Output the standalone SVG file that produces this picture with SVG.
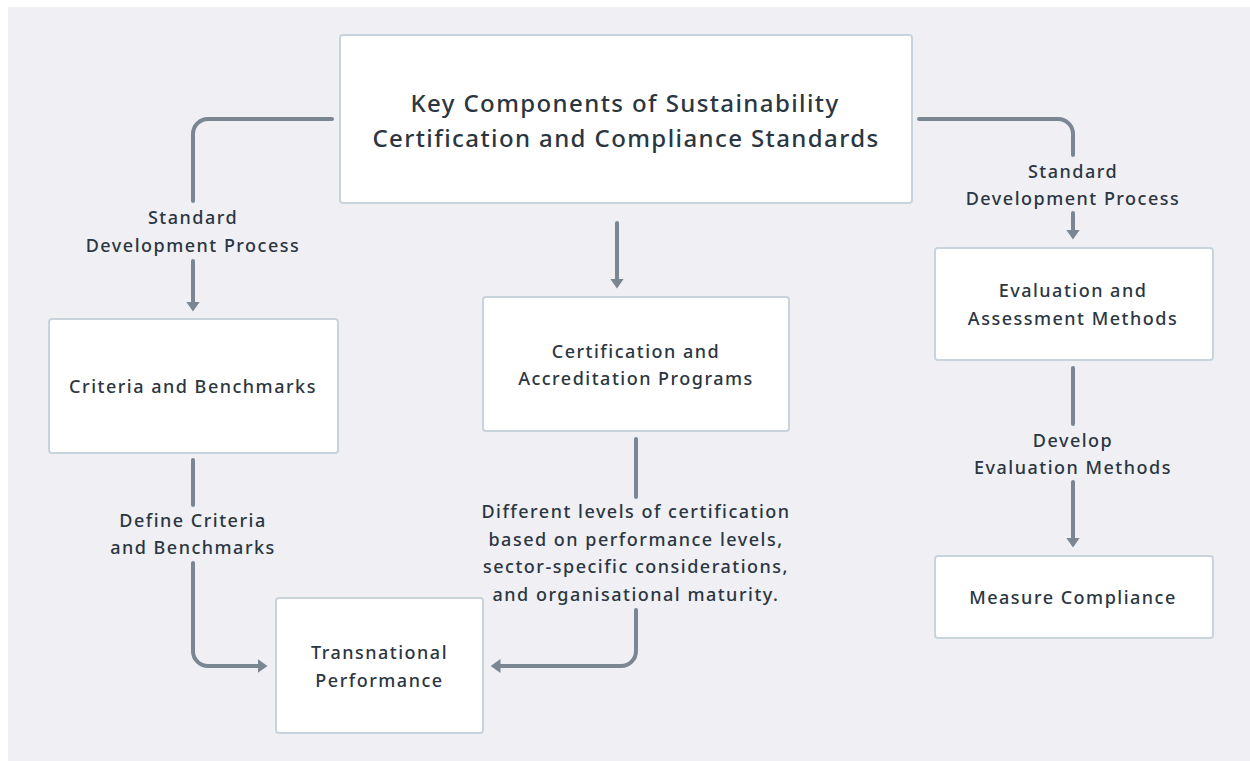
<svg xmlns="http://www.w3.org/2000/svg" width="1250" height="761" viewBox="0 0 1250 761">
<style>
.bg{fill:#efeff4}
.box{fill:#ffffff;stroke:#c9d3dc;stroke-width:2}
.t{font-family:"Noto Sans","DejaVu Sans",sans-serif;font-size:18px;font-weight:500;fill:#2b3641;text-anchor:middle;letter-spacing:1.5px}
.title{font-size:24px;letter-spacing:1.4px}
.c{fill:none;stroke:#7a8792;stroke-width:4;stroke-linecap:round}
</style>
<defs>
<marker id="ah" viewBox="0 0 10 14" markerUnits="userSpaceOnUse" markerWidth="10" markerHeight="14" refX="0.5" refY="7" orient="auto">
<path d="M0,0 L10,7 L0,14 z" fill="#7a8792"/>
</marker>
</defs>
<rect class="bg" x="8" y="7" width="1242" height="754"/>
<g id="connectors">
<path class="c" d="M332,119 H208 A15,15 0 0 0 193,134 V201"/>
<path class="c" d="M193,261 V302" marker-end="url(#ah)"/>
<path class="c" d="M617,223 V279" marker-end="url(#ah)"/>
<path class="c" d="M919,119 H1058 A15,15 0 0 1 1073,134 V155"/>
<path class="c" d="M1073,213 V230" marker-end="url(#ah)"/>
<path class="c" d="M193,460 V505"/>
<path class="c" d="M193,563 V651 A15,15 0 0 0 208,666 H258" marker-end="url(#ah)"/>
<path class="c" d="M636,439 V497"/>
<path class="c" d="M636,610 V651 A15,15 0 0 1 621,666 H500" marker-end="url(#ah)"/>
<path class="c" d="M1073,368 V424"/>
<path class="c" d="M1073,482 V538" marker-end="url(#ah)"/>
<text class="t" x="193" y="224">Standard</text>
<text class="t" x="193" y="252">Development Process</text>
<text class="t" x="1073" y="178">Standard</text>
<text class="t" x="1073" y="205">Development Process</text>
<text class="t" x="193" y="527">Define Criteria</text>
<text class="t" x="193" y="554">and Benchmarks</text>
<text class="t" x="636" y="518">Different levels of certification</text>
<text class="t" x="636" y="546">based on performance levels,</text>
<text class="t" x="636" y="573">sector-specific considerations,</text>
<text class="t" x="636" y="601">and organisational maturity.</text>
<text class="t" x="1073" y="447">Develop</text>
<text class="t" x="1073" y="474">Evaluation Methods</text>
</g>
<g id="main">
<rect class="box" x="340" y="35" width="572" height="168" rx="3"/>
<text class="t title" x="625" y="111.5">Key Components of Sustainability</text>
<text class="t title" x="626" y="147">Certification and Compliance Standards</text>
</g>
<g id="criteria">
<rect class="box" x="49" y="319" width="289" height="134" rx="3"/>
<text class="t" x="193" y="392.5">Criteria and Benchmarks</text>
</g>
<g id="certification">
<rect class="box" x="483" y="297" width="306" height="134" rx="3"/>
<text class="t" x="636" y="358">Certification and</text>
<text class="t" x="636" y="385">Accreditation Programs</text>
</g>
<g id="evaluation">
<rect class="box" x="935" y="248" width="278" height="112" rx="3"/>
<text class="t" x="1073" y="297">Evaluation and</text>
<text class="t" x="1073" y="325">Assessment Methods</text>
</g>
<g id="measure">
<rect class="box" x="935" y="556" width="278" height="82" rx="3"/>
<text class="t" x="1073" y="604">Measure Compliance</text>
</g>
<g id="transnational">
<rect class="box" x="276" y="598" width="207" height="135" rx="3"/>
<text class="t" x="379.5" y="659">Transnational</text>
<text class="t" x="379.5" y="687">Performance</text>
</g>
</svg>
